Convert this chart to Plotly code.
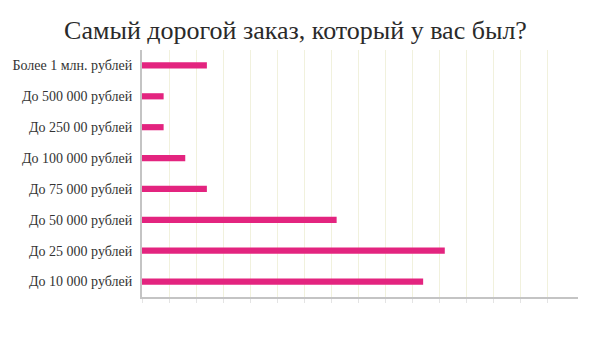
import plotly.graph_objects as go

categories = [
    "До 10 000 рублей",
    "До 25 000 рублей",
    "До 50 000 рублей",
    "До 75 000 рублей",
    "До 100 000 рублей",
    "До 250 00 рублей",
    "До 500 000 рублей",
    "Более 1 млн. рублей",
]
counts = [13, 14, 9, 3, 2, 1, 1, 3]
grid_ticks = [i * 1.25 for i in range(16)]

fig = go.Figure(
    go.Bar(
        x=counts,
        y=categories,
        orientation="h",
        width=0.2,
        marker=dict(color="#e3247f", line=dict(width=0)),
        hoverinfo="x+y",
    )
)

fig.update_layout(
    width=591,
    height=338,
    margin=dict(l=142, r=13, t=50, b=41),
    paper_bgcolor="white",
    plot_bgcolor="white",
    showlegend=False,
    title=dict(
        text="Самый дорогой заказ, который у вас был?",
        x=0.5,
        xanchor="center",
        y=1 - 30 / 338,
        yanchor="middle",
        font=dict(family="Liberation Serif", size=26, color="#2a2a2a"),
    ),
)

fig.update_xaxes(
    range=[0, 20.16],
    tickvals=grid_ticks,
    showticklabels=False,
    showgrid=True,
    gridcolor="#f1f1dd",
    gridwidth=1,
    zeroline=False,
    showline=True,
    linecolor="#c4c4c4",
    linewidth=2,
    ticks="outside",
    ticklen=4,
    tickcolor="#e4e4e4",
    fixedrange=True,
)

fig.update_yaxes(
    categoryorder="array",
    categoryarray=categories,
    range=[-0.5, 7.5],
    showgrid=False,
    zeroline=False,
    showline=True,
    linecolor="#c4c4c4",
    linewidth=2,
    ticks="",
    ticklabelstandoff=5,
    tickfont=dict(family="Liberation Serif", size=14, color="#333333"),
    fixedrange=True,
)

fig.write_html("out.html")
